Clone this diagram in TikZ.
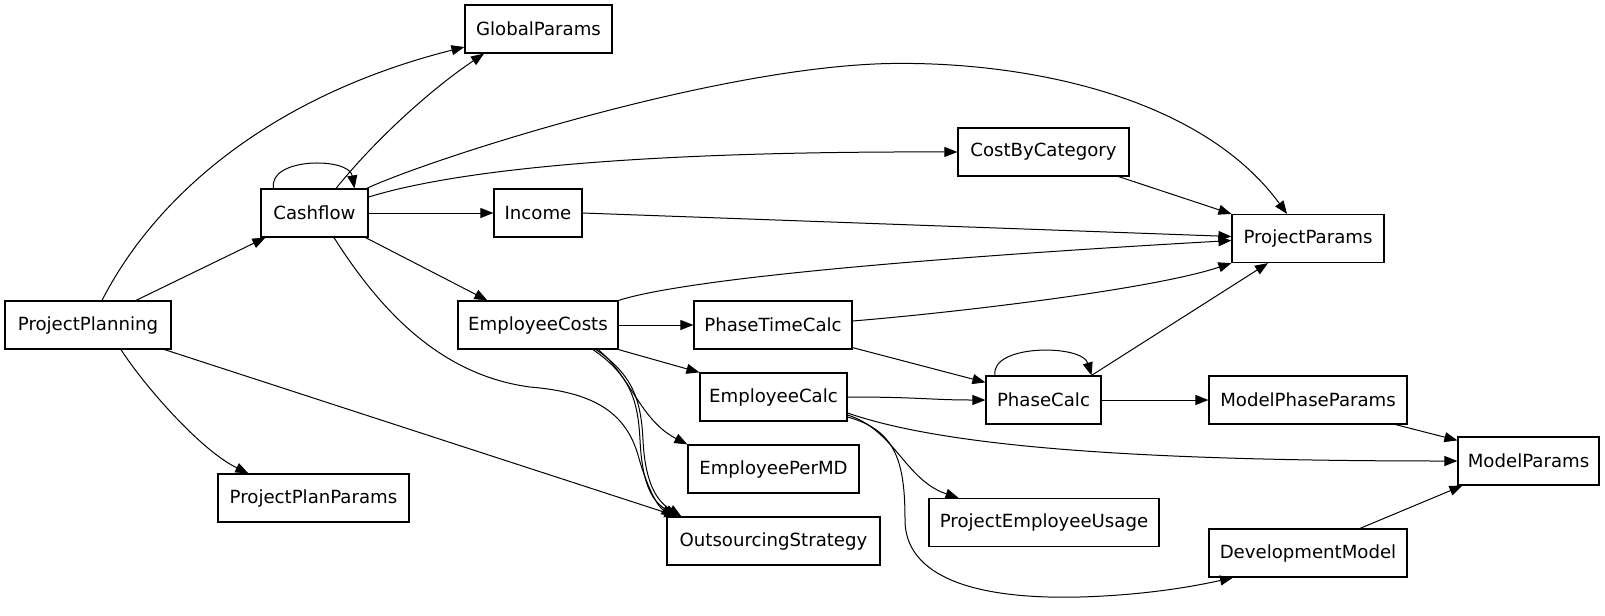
\documentclass[tikz,border=0pt]{standalone}
\usepackage{fontspec}
\setmainfont{DejaVu Sans}
\usetikzlibrary{arrows.meta,calc}
\tikzset{
  nd/.style={draw=black, line width=0.9pt, inner sep=0pt, minimum height=36pt,
    font=\fontsize{13.6}{16}\selectfont, text=black},
  edge/.style={draw=black, line width=0.75pt, -{Triangle[length=9.75pt,width=7.5pt]}}
}
\begin{document}
\begin{tikzpicture}[x=0.75pt,y=-0.75pt]
\useasboundingbox[fill=white] (0,0) rectangle (1605,615);
% nodes
\node[nd, minimum width=110.25pt] (gp) at (538.5,29) {GlobalParams};
\node[nd, minimum width=80.25pt] (cf) at (314.5,213) {Cashflow};
\node[nd, minimum width=66pt] (inc) at (538,213) {Income};
\node[nd, minimum width=128.25pt] (cbc) at (1043.5,152) {CostByCategory};
\node[nd, minimum width=114pt] (prp) at (1308,238.5) {ProjectParams};
\node[nd, minimum width=124.5pt] (pp) at (88,325) {ProjectPlanning};
\node[nd, minimum width=120pt] (ec) at (538,325) {EmployeeCosts};
\node[nd, minimum width=118.5pt] (ptc) at (773,325) {PhaseTimeCalc};
\node[nd, minimum width=110.25pt] (ecalc) at (773.5,397) {EmployeeCalc};
\node[nd, minimum width=86.25pt] (phc) at (1043.5,400) {PhaseCalc};
\node[nd, minimum width=148.5pt] (mpp) at (1308,400) {ModelPhaseParams};
\node[nd, minimum width=105.75pt] (mp) at (1528.5,461) {ModelParams};
\node[nd, minimum width=128.25pt] (epmd) at (773.5,469) {EmployeePerMD};
\node[nd, minimum width=143.25pt] (ppp) at (313.5,498) {ProjectPlanParams};
\node[nd, minimum width=159.75pt] (os) at (773.5,541) {OutsourcingStrategy};
\node[nd, minimum width=172.5pt] (peu) at (1044,522.5) {ProjectEmployeeUsage};
\node[nd, minimum width=148.5pt] (dm) at (1308,553) {DevelopmentModel};
% edges from ProjectPlanning
\draw[edge] ([shift={(14,0)}]pp.north) .. controls (153.5,199.6) and (266,97) .. ([shift={(0,18)}]gp.west);
\draw[edge] ([shift={(48,0)}]pp.north) -- ([shift={(5,0)}]cf.south west);
\draw[edge] ([shift={(33,0)}]pp.south) .. controls (143,384) and (200,450) .. ([shift={(31,0)}]ppp.north west);
\draw[edge] ([shift={(-7,0)}]pp.south east) -- ([shift={(11,0)}]os.north west);
% edges from Cashflow
\draw[edge] ([shift={(-41,0)}]cf.north) .. controls (268,157) and (349,157) .. ([shift={(40,0)}]cf.north);
\draw[edge] ([shift={(21.5,0)}]cf.north) .. controls (375,140) and (430,90) .. ([shift={(-54.5,0)}]gp.south);
\draw[edge] ([shift={(-2,0)}]cf.north east) .. controls (430,159) and (716.5,66.5) .. (890.5,63.5)
  .. controls (1023.6,61.4) and (1200,95) .. ([shift={(-21,0)}]prp.north);
\draw[edge] ([shift={(0,-16)}]cf.east) .. controls (450,172) and (620,151) .. (cbc.west);
\draw[edge] (cf.east) -- (inc.west);
\draw[edge] ([shift={(-3,0)}]cf.south east) -- ([shift={(30,0)}]ec.north west);
\draw[edge] ([shift={(19.5,0)}]cf.south) .. controls (380,310) and (440,375) .. (530,387)
  .. controls (590,392) and (625,410) .. (638,455)
  .. controls (644,477) and (655,505) .. ([shift={(8,0)}]os.north west);
% Income, CostByCategory
\draw[edge] (inc.east) -- ([shift={(0,-2)}]prp.west);
\draw[edge] ([shift={(-11,0)}]cbc.south east) -- (prp.north west);
% EmployeeCosts
\draw[edge] (ec.north east) .. controls (660,287) and (800,265) .. ([shift={(0,2)}]prp.west);
\draw[edge] (ec.east) -- (ptc.west);
\draw[edge] (ec.south east) -- (ecalc.north west);
\draw[edge] ([shift={(60,0)}]ec.south) .. controls (630,375) and (640,420) .. (epmd.north west);
\draw[edge] ([shift={(55,0)}]ec.south) .. controls (630,375) and (638,400) .. (640,440)
  .. controls (642,480) and (650,500) .. ([shift={(11,0)}]os.north west);
\draw[edge] ([shift={(58,0)}]ec.south) .. controls (633,375) and (641,400) .. (643,440)
  .. controls (645,480) and (655,500) .. ([shift={(15,0)}]os.north west);
% PhaseTimeCalc
\draw[edge] ([shift={(0,-4)}]ptc.east) .. controls (950,313) and (1150,290) .. (prp.south west);
\draw[edge] ([shift={(0,-2)}]ptc.south east) -- ([shift={(0,7)}]phc.north west);
% PhaseCalc
\draw[edge] ([shift={(-48.5,0)}]phc.north) .. controls (990,344) and (1082,344) .. ([shift={(48,0)}]phc.north);
\draw[edge] ([shift={(48,0)}]phc.north) -- ([shift={(-40,0)}]prp.south);
\draw[edge] (phc.east) -- (mpp.west);
% EmployeeCalc
\draw[edge] (ecalc.east) .. controls (920,397) and (930,400) .. (phc.west);
\draw[edge] ([shift={(0,16)}]ecalc.east) .. controls (940,445) and (1120,461) .. (mp.west);
\draw[edge] ([shift={(0,18)}]ecalc.east) .. controls (895,430) and (905,480) .. ([shift={(-85.5,0)}]peu.north);
\draw[edge] ([shift={(0,20)}]ecalc.east) .. controls (895,430) and (905,460) .. (905,520)
  .. controls (905,570) and (960,600) .. (1080,597)
  .. controls (1150,595) and (1200,585) .. ([shift={(-75,0)}]dm.south);
% to ModelParams
\draw[edge] ([shift={(-12,0)}]mpp.south east) -- ([shift={(0,4)}]mp.north west);
\draw[edge] ([shift={(52,0)}]dm.north) -- ([shift={(5,0)}]mp.south west);
\end{tikzpicture}
\end{document}
